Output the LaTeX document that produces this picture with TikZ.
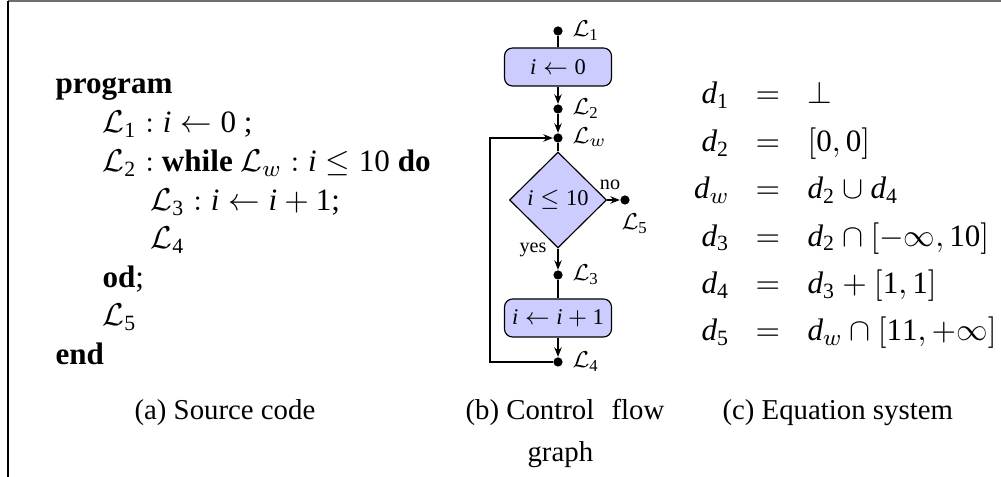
\documentclass[tikz,border=0pt]{standalone}
\usepackage{fontspec}
\setmainfont{Liberation Serif}
\usetikzlibrary{shapes.geometric,arrows.meta}
\definecolor{boxfill}{RGB}{204,204,255}
\definecolor{framegray}{RGB}{110,110,110}
\newcommand{\vi}{\mathit{i}}
\newcommand{\vd}{\mathit{d}}
\newcommand{\nr}[1]{\mathrm{#1}}
\begin{document}
\begin{tikzpicture}[x=0.3472pt,y=-0.3472pt,line width=0.4pt,
  stmt/.style={draw, fill=boxfill, rounded corners=2.8pt, minimum width=37.15pt, minimum height=13.2pt, inner sep=0pt, font=\fontsize{7.8}{9}\selectfont},
  cond/.style={diamond, draw, fill=boxfill, minimum width=33.7pt, minimum height=33.3pt, inner sep=0pt, font=\fontsize{7.8}{9}\selectfont},
  pnt/.style={circle, fill=black, minimum size=3.2pt, inner sep=0pt},
  lab/.style={anchor=base west, inner sep=0pt, font=\fontsize{8.3}{10}\selectfont},
  smalltxt/.style={inner sep=0pt, font=\fontsize{7}{9}\selectfont},
  code/.style={anchor=base west, inner sep=0pt, font=\fontsize{10.8}{13}\selectfont},
  eqtxt/.style={inner sep=0pt, font=\fontsize{10.8}{13}\selectfont},
  captxt/.style={inner sep=0pt, font=\fontsize{10}{12}\selectfont},
  arr/.style={-{Stealth[length=3.3pt,width=2.6pt]}}]
\useasboundingbox (0,0) rectangle (1001,477);
% frame
\coordinate (fa) at (8,1.5);
\coordinate (fb) at (1001,1.5);
\coordinate (fc) at (8,477);
\draw[framegray, line width=0.7pt] (fa) -- (fb);
\draw[black, line width=0.5pt] (fa) -- (fc);
% (a) source code
\node[code] (p0) at (55,94) {\textbf{program}};
\node[code] (p1) at (102,133) {$\mathcal{L}_{\nr{1}} : \vi \leftarrow \nr{0}$ ;};
\node[code] (p2) at (102,172) {$\mathcal{L}_{\nr{2}} :$ \textbf{while} $\mathcal{L}_w : \vi \leq \nr{10}$ \textbf{do}};
\node[code] (p3) at (150,211) {$\mathcal{L}_{\nr{3}} : \vi \leftarrow \vi+\nr{1}$;};
\node[code] (p4) at (150,249) {$\mathcal{L}_{\nr{4}}$};
\node[code] (p5) at (102,288) {\textbf{od};};
\node[code] (p6) at (102,326) {$\mathcal{L}_{\nr{5}}$};
\node[code] (p7) at (55,365) {\textbf{end}};
\node[captxt, anchor=base west] (capa) at (134,420) {(a) Source code};
% (b) control flow graph
\node[pnt] (d1) at (558,31) {};
\node[stmt] (s1) at (558,67) {$\vi \leftarrow \nr{0}$};
\node[pnt] (d2) at (558,109) {};
\node[pnt] (dw) at (558,138) {};
\node[cond] (c) at (558,200) {$\vi \leq \nr{10}$};
\node[pnt] (d5) at (625,200) {};
\node[pnt] (d3) at (558,275) {};
\node[stmt] (s2) at (558,318) {$\vi \leftarrow \vi+\nr{1}$};
\node[pnt] (d4) at (558,362) {};
\coordinate (lb) at (490,362);
\coordinate (lt) at (490,138);
\node[lab] (l1) at (572,37) {$\mathcal{L}_{\nr{1}}$};
\node[lab] (l2) at (572,115) {$\mathcal{L}_{\nr{2}}$};
\node[lab] (lw) at (572,144) {$\mathcal{L}_w$};
\node[lab] (l5) at (621,230) {$\mathcal{L}_{\nr{5}}$};
\node[lab] (l3) at (572,281) {$\mathcal{L}_{\nr{3}}$};
\node[lab] (l4) at (572,368) {$\mathcal{L}_{\nr{4}}$};
\node[smalltxt] (no) at (610,185) {no};
\node[smalltxt] (yes) at (533,250) {yes};
\draw (d1) -- (s1);
\draw[arr] (s1) -- (d2);
\draw[arr] (d2) -- (dw);
\draw (dw) -- (c.north);
\draw[arr] (c.east) -- (d5);
\draw[arr] (c.south) -- (d3);
\draw (d3) -- (s2);
\draw[arr] (s2) -- (d4);
\draw[arr] (d4) -- (lb) -- (lt) -- (dw);
\node[captxt, anchor=base west] (capb1) at (465,420) {(b) Control};
\node[captxt, anchor=base east] (capb2) at (665,420) {flow};
\node[captxt, anchor=base west] (capb3) at (527,462) {graph};
% (c) equation system
\foreach \i/\l/\r [count=\k from 0] in {1/{\vd_{\nr{1}}}/{\bot}, 2/{\vd_{\nr{2}}}/{[\nr{0},\nr{0}]}, w/{\vd_w}/{\vd_{\nr{2}} \cup \vd_{\nr{4}}}, 3/{\vd_{\nr{3}}}/{\vd_{\nr{2}} \cap [-\infty, \nr{10}]}, 4/{\vd_{\nr{4}}}/{\vd_{\nr{3}} + [\nr{1},\nr{1}]}, 5/{\vd_{\nr{5}}}/{\vd_w \cap [\nr{11}, +\infty]}}{
  \node[eqtxt, anchor=base east] (el\i) at (730,{104+47.4*\k}) {$\l$};
  \node[eqtxt, anchor=base] (ee\i) at (768,{104+47.4*\k}) {$=$};
  \node[eqtxt, anchor=base west] (er\i) at (807,{104+47.4*\k}) {$\r$};
}
\node[captxt, anchor=base west] (capc) at (722,420) {(c) Equation system};
\end{tikzpicture}
\end{document}
